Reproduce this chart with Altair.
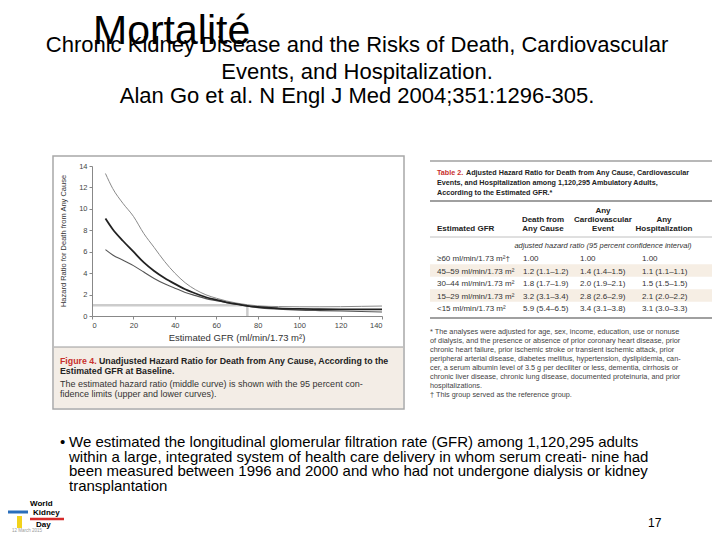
import altair as alt
import pandas as pd

# ---------------- data ----------------
gfr = [6.5, 10, 15, 20, 25, 30, 35, 40, 45, 50, 55, 60, 65, 70, 75, 80, 90, 100, 110, 120, 130, 140]
hr_estimate = [9.1, 8.1, 7.0, 6.0, 5.0, 4.2, 3.55, 3.0, 2.5, 2.1, 1.75, 1.5, 1.28, 1.1, 0.95, 0.84, 0.72, 0.66, 0.63, 0.62, 0.62, 0.62]
hr_upper = [13.3, 11.9, 10.5, 9.3, 7.7, 6.4, 5.1, 4.0, 3.1, 2.45, 1.98, 1.66, 1.4, 1.2, 1.05, 0.95, 0.88, 0.86, 0.86, 0.87, 0.9, 0.93]
hr_lower = [6.2, 5.7, 5.2, 4.7, 4.1, 3.5, 3.0, 2.6, 2.2, 1.9, 1.62, 1.43, 1.25, 1.1, 0.92, 0.78, 0.64, 0.55, 0.5, 0.46, 0.42, 0.38]
ref_gfr_start = [0, 75]
ref_gfr_end = [75, 75]
ref_hr_start = [1, 0]
ref_hr_end = [1, 1]
x_ticks = [0, 20, 40, 60, 80, 100, 120, 140]
y_ticks = [0, 2, 4, 6, 8, 10, 12, 14]

title_main = "Mortalité"
title_lines = ["Chronic Kidney Disease and the Risks of Death, Cardiovascular",
               "Events, and Hospitalization.",
               "Alan Go et al. N Engl J Med 2004;351:1296-305."]
y_title = "Hazard Ratio for Death from Any Cause"
x_title = "Estimated GFR (ml/min/1.73 m²)"
caption_red = "Figure 4."
caption_bold = ["Unadjusted Hazard Ratio for Death from Any Cause, According to the",
                "Estimated GFR at Baseline."]
caption_plain = ["The estimated hazard ratio (middle curve) is shown with the 95 percent con-",
                 "fidence limits (upper and lower curves)."]

table_red = "Table 2."
table_title = ["Adjusted Hazard Ratio for Death from Any Cause, Cardiovascular",
               "Events, and Hospitalization among 1,120,295 Ambulatory Adults,",
               "According to the Estimated GFR.*"]
col_headers = [["", "", "Estimated GFR"], ["", "Death from", "Any Cause"],
               ["Any", "Cardiovascular", "Event"], ["", "Any", "Hospitalization"]]
unit_note = "adjusted hazard ratio (95 percent confidence interval)"
gfr_groups = ["≥60 ml/min/1.73 m²†", "45–59 ml/min/1.73 m²", "30–44 ml/min/1.73 m²",
              "15–29 ml/min/1.73 m²", "<15 ml/min/1.73 m²"]
death_any = ["1.00", "1.2 (1.1–1.2)", "1.8 (1.7–1.9)", "3.2 (3.1–3.4)", "5.9 (5.4–6.5)"]
cardio_event = ["1.00", "1.4 (1.4–1.5)", "2.0 (1.9–2.1)", "2.8 (2.6–2.9)", "3.4 (3.1–3.8)"]
hospital = ["1.00", "1.1 (1.1–1.1)", "1.5 (1.5–1.5)", "2.1 (2.0–2.2)", "3.1 (3.0–3.3)"]
footnotes = ["* The analyses were adjusted for age, sex, income, education, use or nonuse",
             "  of dialysis, and the presence or absence of prior coronary heart disease, prior",
             "  chronic heart failure, prior ischemic stroke or transient ischemic attack, prior",
             "  peripheral arterial disease, diabetes mellitus, hypertension, dyslipidemia, can-",
             "  cer, a serum albumin level of 3.5 g per deciliter or less, dementia, cirrhosis or",
             "  chronic liver disease, chronic lung disease, documented proteinuria, and prior",
             "  hospitalizations.",
             "† This group served as the reference group."]
bullet_lines = ["We estimated the longitudinal glomerular filtration rate (GFR) among 1,120,295 adults",
                "within a large, integrated system of health care delivery in whom serum creati- nine had",
                "been measured between 1996 and 2000 and who had not undergone dialysis or kidney",
                "transplantation"]
page_no = "17"
logo_words = ["World", "Kidney", "Day"]
logo_date = "12 March 2015"

# ---------------- layout helpers ----------------
OX, OY = 92, 166          # page position of the plot origin
W, H = 290, 150
SLIDE = "Liberation Sans, Arial, sans-serif"
NEJM = "Liberation Sans, Arial, sans-serif"
one = pd.DataFrame({"k": [0]})


def txt(s, x, y, size, font=SLIDE, color="#000", align="left", weight="normal",
        style="normal", angle=0, baseline="alphabetic"):
    return alt.Chart(one).mark_text(
        text=s, font=font, fontSize=size, color=color, align=align,
        fontWeight=weight, fontStyle=style, angle=angle, baseline=baseline
    ).encode(x=alt.value(x - OX), y=alt.value(y - OY))


def box(x1, y1, x2, y2, fill, stroke=None, sw=0):
    kw = dict(fill=fill, strokeWidth=sw)
    if stroke:
        kw["stroke"] = stroke
    return alt.Chart(one).mark_rect(**kw).encode(
        x=alt.value(x1 - OX), x2=alt.value(x2 - OX),
        y=alt.value(y1 - OY), y2=alt.value(y2 - OY))


def hline(x1, x2, y, color, sw):
    return alt.Chart(one).mark_rule(color=color, strokeWidth=sw).encode(
        x=alt.value(x1 - OX), x2=alt.value(x2 - OX), y=alt.value(y - OY))


layers = []

# figure panel
layers.append(box(53, 156, 404, 409, "#ffffff", "#a8a8a8", 1.5))
layers.append(box(54, 347, 403, 408, "#f3ede6"))
layers.append(hline(54, 403, 347, "#9a9a9a", 1))

# table shading and rules
for i in (1, 3):
    yc = 258 + i * 12.5
    layers.append(box(430, yc - 6.2, 712, yc + 6.2, "#f6eee4"))
layers.append(hline(430, 712, 161, "#a0a0a0", 1.5))
layers.append(hline(430, 712, 201, "#a0a0a0", 2))
layers.append(hline(430, 712, 237, "#b0b0b0", 0.8))
layers.append(hline(430, 712, 318, "#a0a0a0", 2))

# ---------------- curves ----------------
curves = pd.DataFrame({"gfr": gfr, "est": hr_estimate, "up": hr_upper, "lo": hr_lower})
xs = alt.Scale(domain=[0, 140], nice=False, zero=False)
ys = alt.Scale(domain=[0, 14], nice=False)
xax = alt.Axis(values=x_ticks, title=None, labelFont=NEJM, labelFontSize=7.5, labelColor="#444",
               domainColor="#888", tickColor="#888", tickSize=3, labelPadding=2, grid=False, zindex=1)
yax = alt.Axis(values=y_ticks, title=None, labelFont=NEJM, labelFontSize=7.5, labelColor="#444",
               domainColor="#888", tickColor="#888", tickSize=3, labelPadding=2, grid=False, zindex=1)

ref = pd.DataFrame({"g_start": ref_gfr_start, "g_end": ref_gfr_end,
                    "h_start": ref_hr_start, "h_end": ref_hr_end})
layers.append(alt.Chart(ref).mark_rule(color="#cccccc", strokeWidth=2.5).encode(
    x=alt.X("g_start:Q", scale=xs, axis=xax), x2="g_end:Q",
    y=alt.Y("h_start:Q", scale=ys, axis=yax), y2="h_end:Q"))
for field, col, sw in (("up", "#8a8a8a", 1.0), ("lo", "#555555", 1.1), ("est", "#222222", 1.8)):
    layers.append(alt.Chart(curves).mark_line(color=col, strokeWidth=sw, interpolate="monotone").encode(
        x=alt.X("gfr:Q", scale=xs, axis=xax), y=alt.Y(f"{field}:Q", scale=ys, axis=yax)))

# axis titles
layers.append(txt(y_title, 66, 241, 7.5, font=NEJM, color="#333", align="center", angle=270))
layers.append(txt(x_title, 237, 341, 9.5, font=NEJM, color="#333", align="center"))

# caption
layers.append(txt(caption_red, 60, 364, 8.8, font=NEJM, color="#c8302c", weight="bold"))
layers.append(txt(caption_bold[0], 99, 364, 8.8, font=NEJM, color="#222", weight="bold"))
layers.append(txt(caption_bold[1], 60, 374, 8.8, font=NEJM, color="#222", weight="bold"))
layers.append(txt(caption_plain[0], 60, 387, 9, font=NEJM, color="#333"))
layers.append(txt(caption_plain[1], 60, 397, 9, font=NEJM, color="#333"))

# table text
layers.append(txt(table_red, 437, 175, 7.2, font=NEJM, color="#c8302c", weight="bold"))
layers.append(txt(table_title[0], 466, 175, 7.2, font=NEJM, color="#222", weight="bold"))
layers.append(txt(table_title[1], 437, 185, 7.2, font=NEJM, color="#222", weight="bold"))
layers.append(txt(table_title[2], 437, 195, 7.2, font=NEJM, color="#222", weight="bold"))
col_x = [437, 543, 603, 664]
col_al = ["left", "center", "center", "center"]
for c, hdr in enumerate(col_headers):
    for r, s in enumerate(hdr):
        if s:
            layers.append(txt(s, col_x[c], 213 + r * 9, 8, font=NEJM, color="#222",
                              weight="bold", align=col_al[c]))
layers.append(txt(unit_note, 603, 248, 7.5, font=NEJM, color="#333", style="italic", align="center"))
val_x = [437, 523, 580, 642]
for i in range(len(gfr_groups)):
    yb = 261 + i * 12.5
    for c, arr in enumerate((gfr_groups, death_any, cardio_event, hospital)):
        layers.append(txt(arr[i], val_x[c], yb, 8, font=NEJM, color="#333"))
for i, s in enumerate(footnotes):
    layers.append(txt(s, 430, 334 + i * 9, 7.3, font=NEJM, color="#444"))

# slide titles
layers.append(txt(title_main, 93, 44, 41))
for i, (s, yb) in enumerate(zip(title_lines, (52, 79, 103))):
    layers.append(txt(s, 357, yb, 22, align="center"))

# bullet text
layers.append(txt("•", 60, 447, 15))
for i, s in enumerate(bullet_lines):
    layers.append(txt(s, 69, 447 + i * 14.5, 15))
layers.append(txt(page_no, 648, 527, 12))

# logo (simplified)
layers.append(hline(5, 28, 512, "#2a6ebb", 3))
layers.append(hline(30, 64, 519, "#d62a2a", 2.5))
layers.append(box(17, 516, 22, 528, "#f2d21b"))
for w, xw, yw in zip(logo_words, (30, 33, 36), (506, 515, 527)):
    layers.append(txt(w, xw, yw, 8, weight="bold"))
layers.append(txt(logo_date, 12, 532, 4.5, color="#999"))

chart = alt.layer(*layers).properties(
    width=W, height=H,
    padding={"left": OX - 8, "top": OY - 8, "right": 704 - (OX - 8) - W, "bottom": 524 - (OY - 8) - H},
    autosize=alt.AutoSizeParams(type="none"),
    background="white",
).configure_view(stroke=None)

chart.save("out.html", embed_options={"renderer": "svg", "actions": False})
